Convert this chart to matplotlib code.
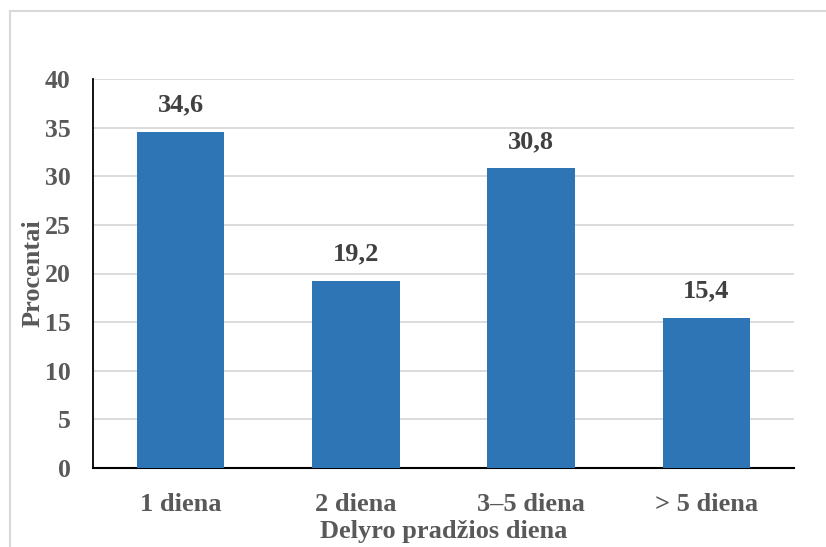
import matplotlib
matplotlib.use("Agg")
import matplotlib.pyplot as plt
from matplotlib.patches import Rectangle

categories = ["1 diena", "2 diena", "3–5 diena", "> 5 diena"]
values = [34.6, 19.2, 30.8, 15.4]
value_labels = ["34,6", "19,2", "30,8", "15,4"]
yticks = [0, 5, 10, 15, 20, 25, 30, 35, 40]

plt.rcParams['font.family'] = ['Liberation Serif', 'DejaVu Serif']
plt.rcParams['font.weight'] = 'bold'

fig = plt.figure(figsize=(8.26, 5.47), dpi=100)
ax = fig.add_axes([93/826, 1-468/547, (794-93)/826, (468-79)/547])

x = range(len(categories))
ax.bar(x, values, width=0.5, color="#2E75B6", zorder=3)
for xi, v, lab in zip(x, values, value_labels):
    ax.text(xi, v + 1.6, lab, ha="center", va="bottom", fontsize=19,
            fontweight="bold", color="#404040")

ax.set_xlim(-0.5, 3.5)
ax.set_ylim(0, 40)
ax.set_yticks(yticks)
ax.set_yticklabels([str(t) for t in yticks], fontsize=18.5, fontweight="bold", color="#595959")
ax.set_xticks(list(x))
ax.set_xticklabels(categories, fontsize=19, fontweight="bold", color="#595959")
ax.tick_params(axis="both", length=0)
ax.tick_params(axis="y", pad=16)
ax.tick_params(axis="x", pad=18)
ax.yaxis.grid(True, color="#D9D9D9", lw=1.3, zorder=0)
ax.set_axisbelow(True)
for s in ["top", "right"]:
    ax.spines[s].set_visible(False)
ax.spines["left"].set_color("black")
ax.spines["left"].set_linewidth(1.3)
ax.spines["bottom"].set_color("black")
ax.spines["bottom"].set_linewidth(1.5)

ax.set_ylabel("Procentai", fontsize=19, fontweight="bold", color="#595959", labelpad=0)
ax.set_xlabel("Delyro pradžios diena", fontsize=19, fontweight="bold", color="#595959", labelpad=3)

fig.patches.append(Rectangle((10/826, -0.2), 1.2, 0.2 + (1 - 11/547),
                             transform=fig.transFigure, fill=False,
                             edgecolor="#D9D9D9", lw=1.5))

fig.savefig("out.png", dpi=100)
